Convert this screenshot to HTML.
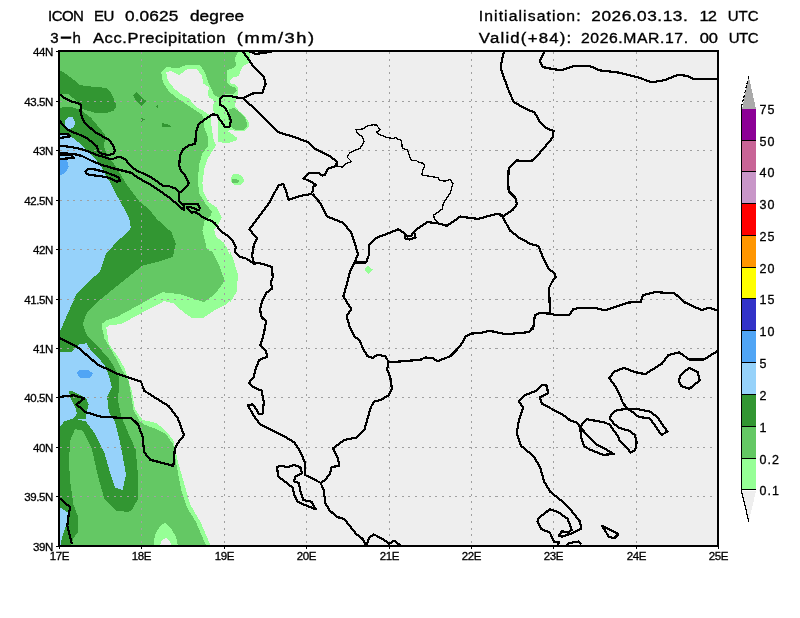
<!DOCTYPE html>
<html><head><meta charset="utf-8"><title>ICON EU 3-h Acc.Precipitation</title>
<style>
html,body{margin:0;padding:0;background:#fff;}
body{width:800px;height:618px;overflow:hidden;position:relative;}
svg{position:absolute;left:0;top:0;}
text{font-family:"Liberation Sans",sans-serif;fill:#000;}
.ax text{font-size:11.5px;letter-spacing:-0.4px;stroke:#000;stroke-width:0.3px}
.cb text{font-size:12.5px;letter-spacing:1px;stroke:#000;stroke-width:0.3px}
.t{font-size:15px;stroke:#000;stroke-width:0.35px;}
</style></head>
<body>
<svg width="800" height="618" viewBox="0 0 800 618" shape-rendering="crispEdges">
<text class="t" x="48.00" y="21" style="letter-spacing:-0.533px">ICON</text>
<text class="t" x="94.00" y="21" style="letter-spacing:-0.600px">EU</text>
<text class="t" transform="translate(124.90,0) scale(1.15,1)" x="0" y="21" style="letter-spacing:0.139px">0.0625</text>
<text class="t" transform="translate(189.90,0) scale(1.15,1)" x="0" y="21" style="letter-spacing:0.104px">degree</text>
<text class="t" y="43"><tspan x="50.2">3</tspan><tspan x="60.4" dy="-1.2" textLength="11" lengthAdjust="spacingAndGlyphs" style="stroke-width:1.1px">-</tspan><tspan x="72.6" dy="1.2">h</tspan></text>
<text class="t" transform="translate(93.00,0) scale(1.1,1)" x="0" y="43" style="letter-spacing:0.545px">Acc.Precipitation</text>
<text class="t" transform="translate(236.75,0) scale(1.22,1)" x="0" y="43" style="letter-spacing:1.264px">(mm/3h)</text>
<text class="t" transform="translate(478.75,0) scale(1.05,1)" x="0" y="21" style="letter-spacing:1.037px">Initialisation:</text>
<text class="t" transform="translate(591.30,0) scale(1.15,1)" x="0" y="21" style="letter-spacing:0.461px">2026.03.13.</text>
<text class="t" transform="translate(699.60,0) scale(1.1,1)" x="0" y="21" style="letter-spacing:-0.909px">12</text>
<text class="t" x="727.75" y="21" style="letter-spacing:0.025px">UTC</text>
<text class="t" transform="translate(478.80,0) scale(1.12,1)" x="0" y="43" style="letter-spacing:1.071px">Valid(+84):</text>
<text class="t" transform="translate(581.00,0) scale(1.05,1)" x="0" y="43" style="letter-spacing:0.563px">2026.MAR.17.</text>
<text class="t" transform="translate(699.70,0) scale(1.1,1)" x="0" y="43" style="letter-spacing:-0.182px">00</text>
<text class="t" x="728.70" y="43" style="letter-spacing:-0.450px">UTC</text>
<rect x="59" y="51" width="659" height="495" fill="#eeeeee"/>
<path d="M59.0,51.0 L250.0,51.0 L250.3,59.7 L248.7,62.9 L243.0,66.2 L240.6,70.2 L239.0,75.9 L233.3,77.5 L229.3,80.7 L230.1,83.2 L234.9,84.4 L238.2,88.0 L238.2,92.1 L236.1,99.9 L234.9,106.3 L239.0,111.2 L245.5,116.8 L248.7,122.5 L248.7,126.6 L244.6,130.6 L239.0,131.4 L229.3,129.8 L227.7,131.4 L231.7,133.8 L237.4,137.9 L236.6,140.3 L229.3,142.7 L225.2,143.5 L218.0,141.5 L218.0,120.7 L216.4,115.0 L213.6,112.8 L213.3,105.7 L214.0,101.8 L212.7,99.2 L208.8,97.3 L208.1,93.4 L208.8,87.0 L203.4,83.8 L201.8,75.7 L196.9,69.3 L187.2,69.3 L179.1,74.9 L171.0,70.9 L166.2,72.5 L167.8,80.6 L174.3,88.7 L182.3,95.1 L188.8,98.4 L196.2,107.0 L202.7,110.2 L208.3,114.3 L210.7,116.7 L211.6,126.4 L212.1,130.0 L213.1,137.8 L216.0,145.5 L212.1,151.4 L207.3,159.1 L204.4,168.8 L202.4,182.4 L203.4,192.1 L208.3,201.8 L217.0,207.7 L221.8,217.4 L218.0,225.1 L214.1,229.0 L216.0,236.8 L223.8,242.6 L226.8,248.0 L234.0,262.8 L238.4,277.3 L233.8,296.9 L226.3,304.4 L215.0,310.0 L203.8,317.5 L192.5,318.4 L183.1,311.9 L173.8,303.4 L164.4,301.0 L141.9,312.8 L121.3,324.0 L109.0,325.5 L106.3,327.5 L108.9,344.3 L117.6,356.0 L124.5,368.0 L131.8,390.7 L134.9,409.2 L142.6,419.9 L156.4,423.0 L165.6,430.7 L173.3,439.9 L177.9,461.4 L184.0,482.9 L190.2,504.4 L200.9,522.8 L210.1,544.3 L211.0,546.0 L59.0,546.0Z" fill="#96ff96"/>
<path d="M230.6,179.0 L233.0,174.5 L238.0,173.7 L243.0,177.0 L244.2,181.0 L240.0,185.3 L234.0,185.0 L231.0,182.0Z" fill="#96ff96"/>
<path d="M230.0,251.0 L233.2,259.0 L238.0,275.0 L236.5,292.0 L230.0,303.0Z" fill="#96ff96"/>
<path d="M368.0,265.5 L372.5,269.5 L368.5,274.0 L364.5,269.5Z" fill="#96ff96"/>
<path d="M59.0,51.0 L238.6,51.0 L235.3,57.0 L235.7,66.0 L234.0,68.0 L227.0,70.0 L226.5,82.0 L230.0,85.6 L236.0,88.0 L236.6,90.5 L233.0,94.0 L225.0,94.5 L220.4,98.5 L214.0,95.0 L212.0,90.0 L208.2,82.2 L205.0,72.5 L200.1,65.2 L185.6,65.2 L177.5,68.5 L166.2,66.8 L161.3,72.5 L162.9,82.2 L169.4,91.9 L177.5,98.4 L187.2,104.8 L196.9,111.3 L201.8,114.3 L203.5,118.0 L204.0,126.0 L205.3,130.0 L208.3,137.8 L208.3,145.5 L202.4,153.3 L199.5,163.0 L197.6,180.5 L199.5,194.1 L206.3,204.8 L212.1,211.6 L210.2,216.4 L204.4,221.3 L202.4,231.0 L205.3,242.6 L207.0,250.0 L212.2,251.1 L219.5,265.7 L224.4,280.0 L222.5,283.8 L215.0,294.1 L203.8,302.1 L194.4,298.8 L179.4,294.1 L162.5,292.2 L151.3,297.8 L140.0,304.4 L117.5,316.6 L106.3,320.3 L102.5,323.5 L101.6,326.8 L104.5,338.5 L113.2,353.0 L121.0,368.0 L128.7,381.5 L133.3,409.2 L139.5,421.4 L144.1,424.5 L156.4,429.1 L165.6,433.7 L173.3,444.5 L176.4,464.5 L181.0,489.0 L187.1,507.5 L196.3,522.8 L205.5,544.3 L206.0,546.0 L59.0,546.0Z" fill="#64c864"/>
<path d="M229.0,109.0 L234.0,108.0 L239.0,111.5 L245.0,117.5 L247.0,123.0 L246.5,127.0 L243.0,130.0 L236.0,130.3 L231.0,127.0 L228.0,119.0Z" fill="#64c864"/>
<path d="M232.0,179.0 L236.0,178.5 L239.3,181.0 L236.5,183.4 L232.0,183.0Z" fill="#64c864"/>
<path d="M153.3,546.0 L155.0,535.0 L160.0,526.0 L165.0,523.0 L171.0,528.0 L176.0,537.0 L178.0,546.0Z" fill="#96ff96"/>
<path d="M159.5,546.0 L162.0,540.0 L166.0,538.0 L170.0,541.0 L171.7,546.0Z" fill="#eeeeee"/>
<path d="M59.0,69.6 L66.0,74.0 L75.7,81.3 L80.3,85.2 L95.8,87.1 L106.2,87.8 L110.1,91.7 L114.0,99.4 L116.5,105.9 L114.0,110.4 L106.2,113.0 L95.8,113.0 L89.4,111.1 L82.9,109.1 L80.3,109.8 L90.7,117.5 L98.4,126.6 L104.9,134.4 L106.2,140.8 L105.0,147.0 L108.8,157.8 L115.3,165.5 L119.1,172.0 L123.0,178.5 L126.9,185.0 L130.8,190.1 L139.4,201.6 L148.8,209.0 L156.9,219.1 L171.4,232.2 L175.8,243.9 L172.9,257.0 L159.8,261.3 L142.3,265.7 L127.8,277.3 L113.2,289.0 L95.8,303.5 L87.0,312.3 L82.7,323.9 L87.0,335.6 L98.7,347.2 L108.9,358.9 L113.0,365.0 L119.5,378.4 L118.0,400.0 L121.0,415.3 L127.2,430.7 L135.5,449.1 L138.2,476.7 L137.5,500.0 L132.0,509.5 L128.7,512.1 L116.4,510.5 L104.2,498.2 L98.0,476.7 L91.9,449.1 L82.6,430.7 L75.0,429.1 L70.4,439.9 L68.8,461.4 L70.4,482.9 L73.4,504.4 L78.0,516.7 L78.0,532.0 L73.4,538.2 L71.0,546.0 L59.0,546.0Z" fill="#329632"/>
<path d="M59.0,94.2 L68.7,94.2 L79.0,103.3 L80.3,109.8 L70.0,106.5 L59.0,107.8Z" fill="#64c864"/>
<path d="M104.9,139.5 L110.0,141.0 L114.0,147.0 L114.6,152.5 L111.4,154.4 L106.0,153.0 L104.0,146.0Z" fill="#64c864"/>
<path d="M136.3,92.1 L141.6,97.0 L146.4,101.2 L141.6,105.6 L135.5,100.0 L133.1,95.4Z" fill="#329632"/>
<path d="M156.1,106.5 L158.2,104.5 L158.2,108.9Z" fill="#329632"/>
<path d="M141.2,117.4 L144.8,119.6 L141.2,121.8Z" fill="#329632"/>
<path d="M162.2,123.0 L168.0,124.5 L171.1,126.5 L167.5,127.4 L162.2,127.2Z" fill="#329632"/>
<path d="M59.0,133.1 L70.0,135.7 L76.4,140.8 L82.9,146.0 L89.4,152.5 L94.5,158.0 L99.7,164.2 L106.2,175.9 L110.1,182.4 L115.3,192.7 L120.4,201.8 L126.9,213.4 L130.1,221.2 L130.7,228.0 L129.2,230.8 L116.1,242.4 L106.0,254.0 L100.1,271.5 L87.0,283.2 L76.8,293.3 L69.6,309.4 L60.8,329.7 L59.0,331.0Z" fill="#96d2fa"/>
<path d="M64.8,121.0 L68.0,117.0 L73.0,117.5 L75.1,122.0 L74.0,127.0 L69.0,129.2 L65.5,126.0Z" fill="#96d2fa"/>
<path d="M59.0,351.8 L62.8,352.4 L71.8,351.8 L74.4,349.2 L79.6,344.0 L86.7,343.4 L90.0,349.2 L96.4,355.7 L104.2,364.7 L108.8,375.4 L111.8,387.6 L107.2,396.9 L108.8,412.2 L114.9,421.4 L119.5,439.9 L122.0,452.0 L126.0,475.0 L122.5,490.0 L114.9,487.5 L110.3,473.7 L104.2,452.2 L94.9,433.7 L85.7,421.4 L73.4,418.4 L64.2,421.4 L59.6,427.6Z" fill="#96d2fa"/>
<path d="M68.6,390.4 L73.0,391.5 L86.1,398.1 L88.7,404.6 L87.4,409.8 L85.4,415.0 L86.5,419.0 L73.5,419.0 L77.0,413.7 L75.7,408.5 L70.5,398.1Z" fill="#329632"/>
<path d="M59.0,507.0 L65.0,510.5 L70.0,514.5 L69.0,518.0 L66.0,525.0 L63.5,533.0 L61.5,540.0 L60.5,545.0 L59.0,545.0Z" fill="#96d2fa"/>
<path d="M59.6,157.8 L66.7,159.0 L68.7,166.8 L66.0,172.0 L59.6,175.9Z" fill="#50a5f5"/>
<path d="M76.5,373.0 L80.0,369.5 L88.0,370.0 L93.4,373.5 L89.0,378.4 L80.0,377.5Z" fill="#50a5f5"/>
<path d="M141.5,52V545M224.5,52V545M306.5,52V545M389.5,52V545M471.5,52V545M553.5,52V545M636.5,52V545M60,101.5H717M60,150.5H717M60,200.5H717M60,249.5H717M60,299.5H717M60,348.5H717M60,397.5H717M60,447.5H717M60,496.5H717" stroke="#a0a0a0" stroke-width="1" stroke-dasharray="2,4.7" fill="none"/>
<path d="M59.6,94.2 L64.8,98.1 L71.2,101.4 L80.3,103.9 L81.0,107.2 L80.3,111.1 L82.9,120.1 L87.0,125.0 L95.0,132.0 L102.0,136.0 L109.0,140.0 L113.0,145.0 L115.0,151.0 L113.0,154.0 L108.0,155.0 L101.0,153.5 L98.0,151.0 L97.0,146.5 L92.0,142.0 L85.0,137.0 L79.0,134.5 L72.0,132.0 L67.0,129.0 L63.0,125.0 L59.6,120.5" stroke="#000" stroke-width="2.2" fill="none" stroke-linejoin="round"/>
<path d="M59.6,145.5 L67.0,146.5 L77.0,148.0 L87.0,151.0 L97.0,155.0 L107.0,158.0 L112.0,159.5 L115.0,158.0 L119.0,156.5 L125.0,159.0 L129.0,164.0 L133.0,168.0 L137.0,170.7 L150.0,176.6 L155.8,180.5 L163.6,186.3 L169.4,186.3 L175.2,188.3 L179.1,192.1 L179.1,201.3 L182.0,203.6" stroke="#000" stroke-width="2.2" fill="none" stroke-linejoin="round"/>
<path d="M59.6,153.0 L74.0,154.0 L82.0,156.0 L92.0,161.0 L102.0,165.0 L112.0,168.0 L122.0,170.5 L132.0,173.0 L137.0,177.2 L150.0,184.4 L161.7,192.1 L170.0,198.2 L175.7,203.0 L180.2,207.0 L183.9,210.1 L183.9,206.5 L182.0,203.6 L197.7,203.6 L200.0,208.1 L198.9,210.1 L196.0,209.2 L193.8,208.1 L190.4,207.3 L187.0,207.0 L188.1,209.5 L191.5,212.6 L193.8,212.1 L196.6,212.6 L201.7,216.6 L206.8,219.4 L211.3,220.8 L215.0,223.4 L216.0,225.1 L221.8,231.9 L227.7,235.8 L232.5,240.7 L235.7,247.2 L235.0,252.0 L239.3,256.3 L246.6,258.7 L253.9,263.6 L258.7,263.0 L265.0,264.5 L272.1,267.2 L272.7,277.5 L270.9,282.4 L272.1,288.5 L266.0,293.3 L262.7,300.0 L259.9,309.1 L261.5,317.0 L266.1,321.5 L263.8,334.0 L260.4,345.3 L266.1,351.0 L267.2,356.6 L259.3,360.0 L255.9,368.0 L253.6,377.0 L249.1,382.7 L253.6,387.2 L261.5,390.6 L263.8,402.0 L262.7,413.3 L259.3,414.4 L255.9,408.7 L252.5,404.2 L247.9,405.3 L253.6,415.5 L260.4,424.6 L274.0,431.4 L286.3,437.5 L294.0,442.2 L300.3,451.6 L305.0,462.5 L305.0,475.0 L311.3,478.1 L320.6,482.8 L323.8,490.6 L325.3,503.1 L330.0,510.9 L337.8,517.2 L344.1,518.8 L350.3,526.6 L356.6,534.4 L362.8,539.1 L365.9,545.0" stroke="#000" stroke-width="2.2" fill="none" stroke-linejoin="round"/>
<path d="M85.5,171.0 L88.0,168.8 L95.0,169.5 L105.0,172.0 L113.0,175.0 L118.0,177.0 L120.4,180.5 L117.0,181.7 L110.0,178.0 L100.0,176.0 L90.0,175.0 L86.0,173.5Z" stroke="#000" stroke-width="2.2" fill="none" stroke-linejoin="round"/>
<path d="M59.6,134.0 L69.0,134.5 L70.0,136.5 L59.6,138.0" stroke="#000" stroke-width="2.2" fill="none" stroke-linejoin="round"/>
<path d="M59.6,154.5 L72.0,155.5 L74.0,158.0 L59.6,159.0" stroke="#000" stroke-width="2.2" fill="none" stroke-linejoin="round"/>
<path d="M243.0,51.5 L254.3,67.6 L264.0,77.3 L265.6,83.8 L262.3,92.9 L252.6,93.5 L243.0,98.4 L239.8,98.2 L231.7,96.2 L223.6,95.8 L219.6,99.9 L219.6,104.7 L223.6,106.3 L226.8,110.4 L229.3,116.0 L230.9,120.9 L230.1,124.9 L229.3,127.0 L224.8,127.0 L223.6,124.9 L219.6,119.3 L217.1,114.8 L213.1,114.4 L209.9,116.0 L205.0,119.3 L198.5,124.2 L196.0,132.0 L195.3,143.6 L188.8,145.5 L183.0,149.4 L180.1,155.2 L179.1,165.9 L181.1,170.8 L185.9,176.6 L188.8,183.4 L185.0,188.3 L179.1,193.1" stroke="#000" stroke-width="2.2" fill="none" stroke-linejoin="round"/>
<path d="M249.4,51.5 L255.9,54.0 L268.8,52.1 L272.0,51.5" stroke="#000" stroke-width="2.2" fill="none" stroke-linejoin="round"/>
<path d="M243.0,98.4 L255.9,109.7 L268.8,122.6 L278.5,132.3 L294.7,137.2 L307.6,142.0 L314.1,148.5 L330.3,156.6 L336.7,161.4 L336.4,165.7" stroke="#000" stroke-width="2.2" fill="none" stroke-linejoin="round"/>
<path d="M336.4,165.7 L342.5,167.1 L346.9,163.1 L351.6,161.6 L347.1,157.2 L349.8,152.7 L353.4,150.9 L357.8,149.2 L360.0,148.3 L362.3,144.7 L364.0,141.1 L362.3,136.7 L359.6,134.9 L356.9,132.2 L356.0,129.6 L359.6,129.6 L363.1,128.7 L367.6,126.0 L372.9,124.8 L376.5,125.1 L380.1,129.6 L376.5,132.2 L378.3,134.0 L382.7,135.8 L387.2,137.6 L392.5,138.5 L396.0,137.6 L397.9,139.4 L401.4,140.3 L402.3,148.3 L405.0,149.2 L407.7,150.0 L408.6,153.6 L410.3,158.1 L412.1,160.7 L416.6,160.7 L419.2,162.5 L423.7,163.4 L424.6,166.1 L422.8,169.6 L421.9,175.0 L427.2,175.9 L432.6,176.8 L437.9,177.7 L439.7,180.3 L445.0,181.2 L450.4,179.4 L453.0,183.9 L452.2,185.7 L450.4,192.8 L446.8,198.1 L443.3,203.5 L442.4,208.8 L437.9,212.4 L433.5,215.0 L434.4,218.6 L437.0,221.3 L438.8,223.0" stroke="#000" stroke-width="1.3" fill="none" stroke-linejoin="round"/>
<path d="M336.4,165.7 L328.5,168.4 L326.5,171.5 L325.0,175.0 L322.0,175.5 L318.9,173.2 L309.2,172.6 L303.6,178.4 L307.5,180.2 L312.7,182.8 L316.2,185.0 L313.2,186.7 L312.3,192.9" stroke="#000" stroke-width="2.2" fill="none" stroke-linejoin="round"/>
<path d="M312.5,193.8 L300.0,196.0 L288.5,200.0 L286.5,192.5 L283.4,184.0 L278.5,185.5 L268.8,203.5 L259.1,216.4 L249.4,229.3 L257.0,238.6 L253.9,244.7 L252.1,255.7 L253.9,263.6" stroke="#000" stroke-width="2.2" fill="none" stroke-linejoin="round"/>
<path d="M312.5,193.8 L320.6,203.5 L327.0,216.4 L343.2,222.9 L351.3,232.6 L354.7,243.0 L357.9,254.3 L354.7,262.4 L349.8,272.1 L346.6,285.0 L343.3,296.4 L351.4,309.3 L346.6,315.8 L349.8,327.2 L354.7,336.9 L359.5,340.1 L362.8,348.2 L367.6,356.3 L372.5,357.9 L377.3,354.7 L385.4,356.3 L388.7,362.1" stroke="#000" stroke-width="2.2" fill="none" stroke-linejoin="round"/>
<path d="M354.7,262.4 L366.0,262.4 L369.2,254.3 L369.2,244.6 L375.7,238.1 L388.7,233.2 L398.2,229.3 L404.5,233.0 L407.0,236.5 L411.1,235.8 L414.0,232.0 L418.3,228.0 L427.2,222.1 L436.1,223.0 L446.8,225.7 L453.9,221.3 L460.0,216.5 L470.0,217.9 L478.4,218.9 L488.9,215.8 L498.4,213.7 L502.6,216.8 L510.0,230.5 L519.4,237.9 L531.0,244.2 L538.4,245.9 L543.6,258.9 L548.9,269.4 L554.1,272.6 L555.8,276.8 L552.0,282.0 L548.9,288.3 L549.5,298.9 L549.9,313.6" stroke="#000" stroke-width="2.2" fill="none" stroke-linejoin="round"/>
<path d="M404.5,233.0 L405.5,238.5 L410.0,239.5 L415.5,237.5 L414.0,232.0" stroke="#000" stroke-width="2.2" fill="none" stroke-linejoin="round"/>
<path d="M498.4,213.7 L503.7,215.8 L513.1,209.5 L516.9,204.2 L515.2,197.7 L508.7,191.2 L508.1,181.5 L508.7,168.5 L516.9,160.4 L525.0,161.3 L533.1,160.4 L544.5,147.4 L552.6,137.6 L553.6,131.1 L546.1,127.9 L539.6,121.4 L534.7,112.6 L525.0,108.4 L513.6,101.9 L508.7,90.5 L503.9,77.5 L500.6,67.7 L502.0,60.0 L503.9,51.5" stroke="#000" stroke-width="2.2" fill="none" stroke-linejoin="round"/>
<path d="M544.5,51.5 L539.6,61.2 L542.9,67.1 L550.0,68.5 L560.7,70.3 L573.7,66.1 L590.0,66.1 L599.7,70.3 L619.2,72.6 L638.7,77.5 L651.7,82.4 L664.7,80.1 L677.7,74.9 L687.5,75.9 L694.0,79.1 L717.5,79.1" stroke="#000" stroke-width="2.2" fill="none" stroke-linejoin="round"/>
<path d="M388.7,362.1 L404.9,361.2 L421.1,359.5 L425.0,357.5 L432.4,357.9 L437.3,361.2 L450.2,356.3 L456.7,349.8 L463.2,341.7 L465.0,337.0 L471.3,333.6 L480.0,333.0 L489.4,330.8 L506.3,334.2 L529.4,332.1 L533.6,325.8 L534.9,315.2 L539.9,313.1 L549.9,313.6 L556.2,315.3 L568.9,315.3 L573.1,309.4 L579.4,307.7 L596.2,308.3 L605.1,310.2 L628.3,302.6 L640.9,301.8 L643.0,295.0 L655.6,292.1 L674.6,293.4 L685.1,302.6 L701.9,310.2 L708.2,307.7 L717.5,310.2" stroke="#000" stroke-width="2.2" fill="none" stroke-linejoin="round"/>
<path d="M534.9,315.2 L533.1,330.0" stroke="#000" stroke-width="2.2" fill="none" stroke-linejoin="round"/>
<path d="M388.7,362.1 L387.1,369.2 L390.3,377.3 L391.9,388.7 L388.7,395.2 L380.6,400.0 L373.8,401.6 L370.6,407.8 L367.5,418.8 L364.4,429.7 L356.6,437.5 L344.1,440.0 L333.1,448.4 L337.8,457.8 L339.4,465.6 L331.6,467.2 L330.0,473.4 L325.3,479.7 L320.6,482.8" stroke="#000" stroke-width="2.2" fill="none" stroke-linejoin="round"/>
<path d="M276.9,467.2 L280.0,465.6 L287.8,467.2 L294.0,465.0 L300.3,467.2 L301.9,473.4 L295.6,476.6 L294.0,481.3 L298.8,482.8 L300.3,490.6 L303.4,500.0 L311.3,501.6 L315.9,509.4 L308.1,506.3 L297.2,501.6 L294.0,493.8 L292.5,487.5 L284.7,481.3 L278.4,476.6Z" stroke="#000" stroke-width="2.2" fill="none" stroke-linejoin="round"/>
<path d="M366.5,545.5 L369.1,537.5 L373.8,534.4 L383.1,539.1 L389.4,543.8 L394.0,540.6 L400.3,545.3" stroke="#000" stroke-width="2.2" fill="none" stroke-linejoin="round"/>
<path d="M717.5,351.0 L704.0,359.4 L689.3,359.4 L678.8,352.3 L668.2,355.2 L661.9,363.6 L645.1,374.1 L634.6,372.0 L624.1,367.8 L613.6,372.0 L609.3,378.3 L615.7,386.8 L619.9,395.2 L623.0,403.3 L627.8,408.8 L638.8,409.4 L649.8,411.5 L658.0,417.7 L662.2,424.6 L667.7,431.5 L661.5,434.9 L656.7,428.0 L649.8,418.4 L638.8,417.0 L631.9,411.5 L627.8,408.8 L616.8,410.1 L611.3,414.3 L609.9,418.4 L614.0,423.9 L619.5,428.0 L629.1,430.8 L634.6,434.9 L636.7,441.8 L635.3,450.0 L630.5,452.8 L627.8,448.6 L619.5,440.4 L618.1,436.3 L614.0,430.8 L609.9,424.6 L604.4,422.5 L593.4,420.4 L586.5,419.1 L582.4,423.9 L580.3,428.0 L581.0,436.3 L583.8,445.9 L589.3,449.3 L603.0,454.8 L614.0,454.1 L607.1,450.0 L597.5,445.2 L587.9,436.3 L581.0,428.0 L576.9,422.5 L570.0,420.4 L565.2,416.2 L542.0,403.6 L539.9,397.3 L548.3,393.1 L546.2,384.7 L542.0,384.7 L535.7,391.0 L525.2,395.2 L518.9,401.5 L523.1,407.8 L518.9,420.4 L516.8,433.0 L521.0,445.7 L533.6,456.2 L539.9,466.7 L544.1,481.4 L550.4,491.9 L561.0,500.4 L571.5,510.9 L580.0,521.6 L581.4,528.5 L570.4,534.0 L562.1,536.8 L558.7,535.4 L562.1,531.3 L567.6,532.6 L571.8,529.9 L567.6,518.9 L558.0,512.0 L549.8,509.3 L538.8,518.0 L537.4,521.6 L541.5,529.2 L549.8,532.6 L552.5,538.1 L553.9,541.6 L558.7,542.3 L558.0,545.5" stroke="#000" stroke-width="2.2" fill="none" stroke-linejoin="round"/>
<path d="M567.0,545.5 L569.0,543.0 L578.6,541.6 L581.4,544.5" stroke="#000" stroke-width="2.2" fill="none" stroke-linejoin="round"/>
<path d="M602.0,525.8 L618.5,534.0 L614.4,538.1 L608.9,536.8Z" stroke="#000" stroke-width="2.2" fill="none" stroke-linejoin="round"/>
<path d="M678.8,380.4 L680.5,375.0 L689.3,367.8 L697.7,372.0 L699.8,380.4 L689.3,388.9 L681.0,386.0Z" stroke="#000" stroke-width="2.2" fill="none" stroke-linejoin="round"/>
<path d="M59.6,396.9 L73.4,395.3 L84.2,398.4 L76.5,404.5 L85.7,412.2 L101.1,416.8 L131.8,418.4 L138.0,424.5 L142.6,436.8 L144.1,452.2 L150.2,459.8 L162.5,462.9 L173.3,466.0 L174.8,449.1 L177.9,442.9 L184.0,435.3 L177.9,418.4 L168.7,406.1 L156.4,398.4 L144.1,390.7 L141.0,381.5 L132.7,379.0 L117.1,373.8 L109.4,369.9 L99.0,365.4 L88.7,357.0 L79.6,348.5 L73.1,344.7 L59.6,338.2" stroke="#000" stroke-width="2.2" fill="none" stroke-linejoin="round"/>
<path d="M59.6,498.2 L70.4,507.5 L68.8,513.6 L67.3,525.9 L71.9,544.3" stroke="#000" stroke-width="2.2" fill="none" stroke-linejoin="round"/>
<rect x="59" y="51" width="659" height="495" fill="none" stroke="#000" stroke-width="2"/>
<path d="M56,51.5H59M56,101.5H59M56,150.5H59M56,200.5H59M56,249.5H59M56,299.5H59M56,348.5H59M56,397.5H59M56,447.5H59M56,496.5H59M56,546.5H59M59.5,546V549M141.5,546V549M224.5,546V549M306.5,546V549M389.5,546V549M471.5,546V549M553.5,546V549M636.5,546V549M718.5,546V549" stroke="#000" stroke-width="1" fill="none"/>
<g class="ax"><text x="53" y="55.5" text-anchor="end">44N</text><text x="53" y="105.5" text-anchor="end">43.5N</text><text x="53" y="154.5" text-anchor="end">43N</text><text x="53" y="204.5" text-anchor="end">42.5N</text><text x="53" y="253.5" text-anchor="end">42N</text><text x="53" y="303.5" text-anchor="end">41.5N</text><text x="53" y="352.5" text-anchor="end">41N</text><text x="53" y="401.5" text-anchor="end">40.5N</text><text x="53" y="451.5" text-anchor="end">40N</text><text x="53" y="500.5" text-anchor="end">39.5N</text><text x="53" y="550.5" text-anchor="end">39N</text><text x="59.5" y="560" text-anchor="middle">17E</text><text x="141.5" y="560" text-anchor="middle">18E</text><text x="224.5" y="560" text-anchor="middle">19E</text><text x="306.5" y="560" text-anchor="middle">20E</text><text x="389.5" y="560" text-anchor="middle">21E</text><text x="471.5" y="560" text-anchor="middle">22E</text><text x="553.5" y="560" text-anchor="middle">23E</text><text x="636.5" y="560" text-anchor="middle">24E</text><text x="718.5" y="560" text-anchor="middle">25E</text></g>
<g class="cb"><path d="M742,109 L748.7,76.3 L756,109Z" fill="#aaaaaa"/><path d="M741.5,107 L748.7,76.3" stroke="#000" stroke-width="1.2" stroke-dasharray="3,1.8" fill="none"/><rect x="742" y="109" width="14" height="31" fill="#8c0096"/><rect x="742" y="141" width="14" height="30" fill="#c86496"/><rect x="742" y="172" width="14" height="31" fill="#c896c8"/><rect x="742" y="204" width="14" height="31" fill="#ff0000"/><rect x="742" y="236" width="14" height="31" fill="#ff9600"/><rect x="742" y="268" width="14" height="30" fill="#ffff00"/><rect x="742" y="299" width="14" height="31" fill="#3232c8"/><rect x="742" y="331" width="14" height="31" fill="#50a5f5"/><rect x="742" y="363" width="14" height="31" fill="#96d2fa"/><rect x="742" y="395" width="14" height="31" fill="#329632"/><rect x="742" y="427" width="14" height="31" fill="#64c864"/><rect x="742" y="459" width="14" height="30" fill="#96ff96"/><path d="M742,491 L748.8,521.6 L756,491Z" fill="#eeeeee"/><path d="M741.5,491 L748.8,521.6" stroke="#000" stroke-width="1.2" fill="none"/><path d="M741.5,106V492" stroke="#000" stroke-width="1" fill="none"/><path d="M742,140.5H756M742,171.5H756M742,203.5H756M742,235.5H756M742,267.5H756M742,298.5H756M742,330.5H756M742,362.5H756M742,394.5H756M742,426.5H756M742,458.5H756M742,489.5H756" stroke="#000" stroke-width="1" fill="none"/><text x="759.6" y="113.6">75</text><text x="759.6" y="145.6">50</text><text x="759.6" y="176.6">40</text><text x="759.6" y="208.6">30</text><text x="759.6" y="240.6">25</text><text x="759.6" y="272.6">20</text><text x="759.6" y="303.6">15</text><text x="759.6" y="335.6">10</text><text x="759.6" y="367.6">5</text><text x="759.6" y="399.6">2</text><text x="759.6" y="431.6">1</text><text x="759.6" y="463.6">0.2</text><text x="759.6" y="494.6">0.1</text></g>
</svg>
</body></html>
